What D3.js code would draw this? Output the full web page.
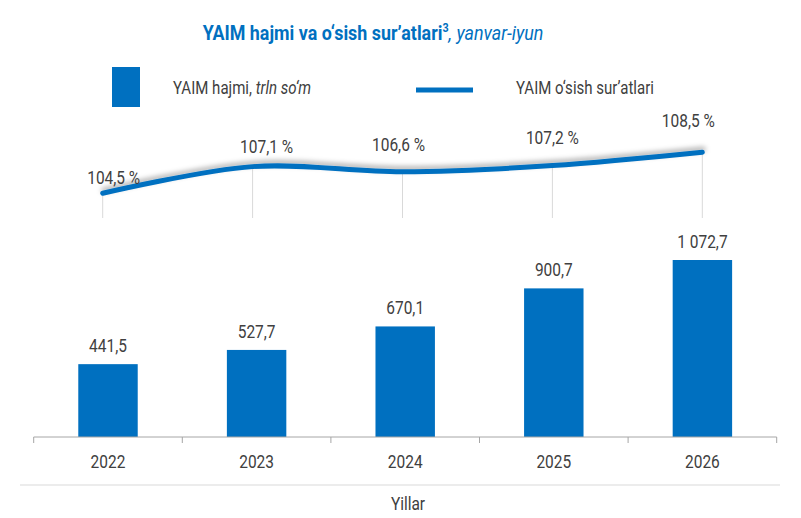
<!DOCTYPE html>
<meta charset="utf-8">
<head>
  <title>YAIM hajmi va o‘sish sur’atlari</title>
  <style>
    body { margin: 0; background: #fff; }
    text { font-family: Roboto, "Noto Sans", sans-serif; }
  </style>
</head>
<script src="https://d3js.org/d3.v7.min.js"></script>
<div id="chart"></div>
<script>

// data
var years = ["2022", "2023", "2024", "2025", "2026"];
var gdpVolume = [441.5, 527.7, 670.1, 900.7, 1072.7];   // trln so'm
var gdpGrowth = [104.5, 107.1, 106.6, 107.2, 108.5];    // %

var width = 801, height = 518;
var blue = "#0070C0", grey = "#404040";
var squeeze = 0.86;   // fake Roboto Condensed

var fmt = d3.formatLocale({decimal: ",", thousands: " ", grouping: [3], currency: ["", ""]}).format(",.1f");

var svg = d3.select("#chart").append("svg")
    .attr("width", width)
    .attr("height", height);

// shadow under the growth line
var defs = svg.append("defs");
defs.append("filter")
    .attr("id", "shadow")
    .attr("x", "-10%").attr("y", "-100%")
    .attr("width", "120%").attr("height", "300%")
  .append("feDropShadow")
    .attr("dx", 1).attr("dy", -3)
    .attr("stdDeviation", 2.4)
    .attr("flood-color", "#000")
    .attr("flood-opacity", 0.3);

// condensed-looking text helper
function label(g, x, y, anchor) {
  return g.append("text")
      .attr("transform", "translate(" + x + "," + y + ") scale(" + squeeze + ",1)")
      .attr("text-anchor", anchor || "middle");
}

// title
var title = label(svg, 373, 40)
    .attr("fill", blue)
    .style("font-size", "20.8px");
title.append("tspan").attr("font-weight", "bold").text("YAIM hajmi va o‘sish sur’atlari");
title.append("tspan").attr("font-weight", "bold").attr("dy", -8).style("font-size", "12.5px").text("3");
title.append("tspan").attr("dy", 8).style("font-style", "italic").text(", yanvar-iyun");

// legend
svg.append("rect")
    .attr("x", 112).attr("y", 67)
    .attr("width", 28).attr("height", 40)
    .attr("fill", blue);
var leg1 = label(svg, 173, 94, "start").attr("fill", grey).style("font-size", "17.5px");
leg1.append("tspan").text("YAIM hajmi, ");
leg1.append("tspan").style("font-style", "italic").text("trln so‘m");

svg.append("line")
    .attr("x1", 416).attr("x2", 473)
    .attr("y1", 90).attr("y2", 90)
    .attr("stroke", blue)
    .attr("stroke-width", 5);
label(svg, 516, 94, "start").attr("fill", grey).style("font-size", "17.5px")
    .text("YAIM o‘sish sur’atlari");

// ---------- growth line (top panel)
var xLine = d3.scalePoint().domain(years).range([102.7, 702.3]);
var yLine = d3.scaleLinear().domain([100, 110]).range([239.4, 136.9]);
var lineBottom = 218;

var growth = years.map(function(y, i) { return {year: y, value: gdpGrowth[i]}; });

svg.append("g").selectAll("line")
    .data(growth)
  .enter().append("line")
    .attr("x1", function(d) { return xLine(d.year); })
    .attr("x2", function(d) { return xLine(d.year); })
    .attr("y1", function(d) { return yLine(d.value); })
    .attr("y2", lineBottom)
    .attr("stroke", "#d9d9d9")
    .attr("stroke-width", 1);

var line = d3.line()
    .curve(d3.curveCatmullRom.alpha(0.5))
    .x(function(d) { return xLine(d.year); })
    .y(function(d) { return yLine(d.value); });

svg.append("path")
    .attr("d", line(growth))
    .attr("fill", "none")
    .attr("stroke", blue)
    .attr("stroke-width", 5)
    .attr("stroke-linecap", "round")
    .attr("filter", "url(#shadow)");

// label nudges copied from the excel placement
var lineLabelNudge = [[11, -9], [14, -14], [-4, -21], [0, -22], [-14, -25]];
var gLineLbl = svg.append("g");
growth.forEach(function(d, i) {
  label(gLineLbl, xLine(d.year) + lineLabelNudge[i][0], yLine(d.value) + lineLabelNudge[i][1])
      .attr("fill", grey)
      .style("font-size", "18px")
      .text(fmt(d.value) + " %");
});

// ---------- volume bars (bottom panel)
var xBar = d3.scaleBand().domain(years).range([33.7, 776.7]);
var yBar = d3.scaleLinear().domain([0, 1200]).range([437, 239]);
var barW = xBar.bandwidth() * 0.4;

var volume = years.map(function(y, i) { return {year: y, value: gdpVolume[i]}; });

svg.append("g").selectAll("rect")
    .data(volume)
  .enter().append("rect")
    .attr("x", function(d) { return xBar(d.year) + (xBar.bandwidth() - barW) / 2; })
    .attr("y", function(d) { return yBar(d.value); })
    .attr("width", barW)
    .attr("height", function(d) { return yBar(0) - yBar(d.value); })
    .attr("fill", blue);

var gBarLbl = svg.append("g");
volume.forEach(function(d) {
  label(gBarLbl, xBar(d.year) + xBar.bandwidth() / 2, yBar(d.value) - 12)
      .attr("fill", grey)
      .style("font-size", "18px")
      .text(fmt(d.value));
});

// x axis with ticks between categories
var xAxis = svg.append("g")
    .attr("transform", "translate(0," + yBar(0) + ")");
xAxis.append("line")
    .attr("x1", xBar.range()[0]).attr("x2", xBar.range()[1])
    .attr("stroke", "#a6a6a6");
var edges = years.map(function(y) { return xBar(y); }).concat([xBar.range()[1]]);
xAxis.selectAll(".tk")
    .data(edges)
  .enter().append("line")
    .attr("class", "tk")
    .attr("x1", function(d) { return d; }).attr("x2", function(d) { return d; })
    .attr("y1", 0).attr("y2", 6)
    .attr("stroke", "#a6a6a6");
years.forEach(function(y) {
  label(xAxis, xBar(y) + xBar.bandwidth() / 2, 31)
      .attr("fill", grey)
      .style("font-size", "18px")
      .text(y);
});

// separator and axis title
svg.append("line")
    .attr("x1", 20).attr("x2", 780)
    .attr("y1", 485).attr("y2", 485)
    .attr("stroke", "#d9d9d9");
label(svg, 408, 510)
    .attr("fill", grey)
    .style("font-size", "18px")
    .text("Yillar");

</script>
